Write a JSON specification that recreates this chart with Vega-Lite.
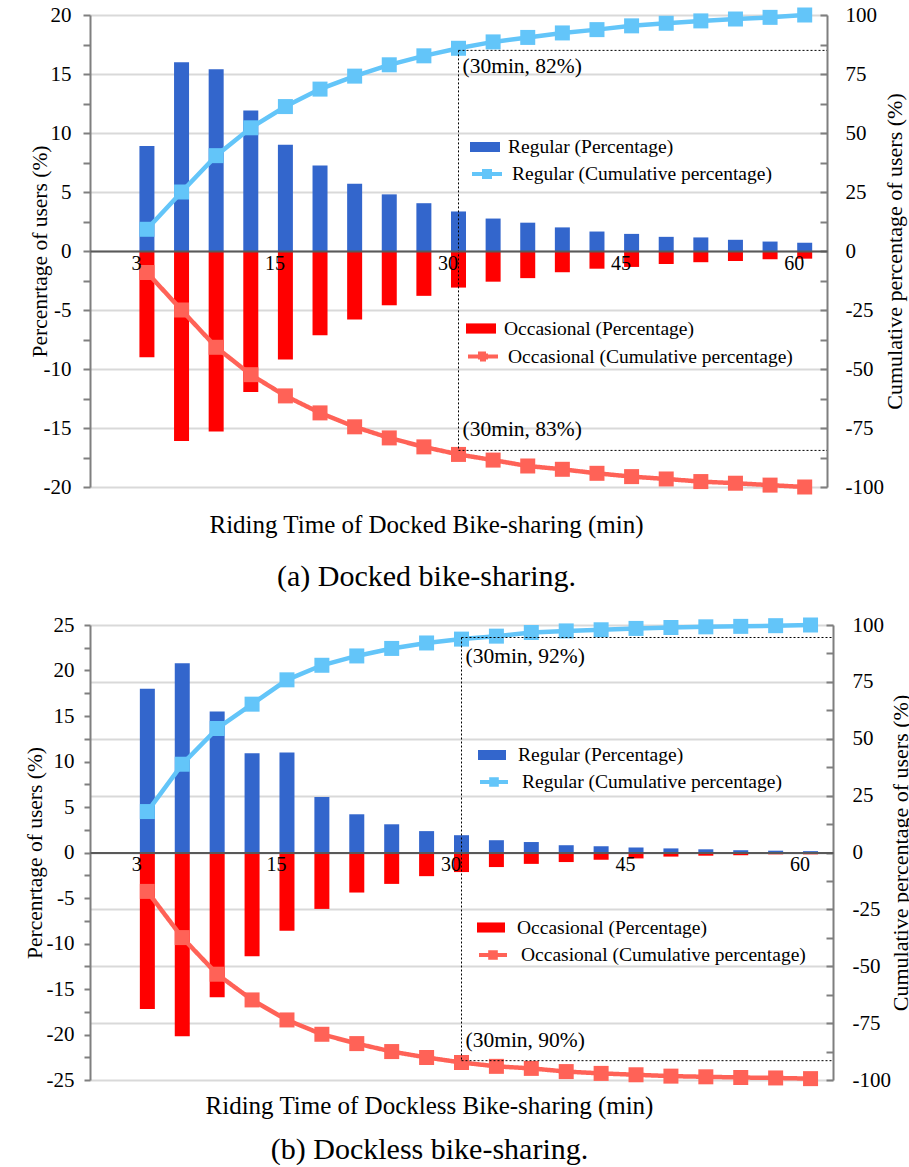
{
  "$schema": "https://vega.github.io/schema/vega-lite/v6.json",
  "background": "white",
  "padding": {"left": 24, "top": 4, "right": 0, "bottom": 0},
  "config": {
    "view": {"stroke": null},
    "font": "Liberation Serif",
    "axis": {"labelFont": "Liberation Serif", "titleFont": "Liberation Serif", "labelColor": "black", "titleColor": "black", "titleFontWeight": "normal", "labelOverlap": false, "labelBound": false},
    "legend": {"labelFont": "Liberation Serif", "labelColor": "black", "padding": 0, "labelFontSize": 19.5, "labelLimit": 500, "clipHeight": 25, "rowPadding": 0, "title": null},
    "title": {"font": "Liberation Serif", "subtitleFont": "Liberation Serif", "color": "black", "subtitleColor": "black", "fontWeight": "normal"}
  },
  "datasets": {
    "docked": [
      {"t": 3, "reg": 8.9, "occ": -9.0, "regCum": 9.2, "occCum": -9.1},
      {"t": 6, "reg": 16.0, "occ": -16.1, "regCum": 25.0, "occCum": -25.0},
      {"t": 9, "reg": 15.4, "occ": -15.3, "regCum": 40.4, "occCum": -40.8},
      {"t": 12, "reg": 11.9, "occ": -11.95, "regCum": 52.2, "occCum": -52.4},
      {"t": 15, "reg": 9.0, "occ": -9.2, "regCum": 61.2, "occCum": -61.4},
      {"t": 18, "reg": 7.25, "occ": -7.15, "regCum": 68.6, "occCum": -68.6},
      {"t": 21, "reg": 5.7, "occ": -5.8, "regCum": 74.1, "occCum": -74.5},
      {"t": 24, "reg": 4.8, "occ": -4.6, "regCum": 78.9, "occCum": -79.2},
      {"t": 27, "reg": 4.05, "occ": -3.8, "regCum": 82.7, "occCum": -83.0},
      {"t": 30, "reg": 3.35, "occ": -3.1, "regCum": 85.9, "occCum": -86.2},
      {"t": 33, "reg": 2.75, "occ": -2.6, "regCum": 88.6, "occCum": -88.6},
      {"t": 36, "reg": 2.4, "occ": -2.3, "regCum": 90.5, "occCum": -91.1},
      {"t": 39, "reg": 2.0, "occ": -1.8, "regCum": 92.4, "occCum": -92.5},
      {"t": 42, "reg": 1.65, "occ": -1.5, "regCum": 93.8, "occCum": -94.2},
      {"t": 45, "reg": 1.45, "occ": -1.35, "regCum": 95.4, "occCum": -95.6},
      {"t": 48, "reg": 1.2, "occ": -1.1, "regCum": 96.5, "occCum": -96.6},
      {"t": 51, "reg": 1.15, "occ": -0.95, "regCum": 97.5, "occCum": -97.7},
      {"t": 54, "reg": 0.95, "occ": -0.85, "regCum": 98.3, "occCum": -98.4},
      {"t": 57, "reg": 0.8, "occ": -0.7, "regCum": 99.0, "occCum": -99.2},
      {"t": 60, "reg": 0.7, "occ": -0.65, "regCum": 100, "occCum": -100}
    ],
    "dockless": [
      {"t": 3, "reg": 18.0, "occ": -17.2, "regCum": 18.0, "occCum": -17.1},
      {"t": 6, "reg": 20.8, "occ": -20.2, "regCum": 38.8, "occCum": -37.4},
      {"t": 9, "reg": 15.5, "occ": -15.9, "regCum": 54.5, "occCum": -53.5},
      {"t": 12, "reg": 10.9, "occ": -11.4, "regCum": 65.2, "occCum": -64.8},
      {"t": 15, "reg": 11.0, "occ": -8.6, "regCum": 75.9, "occCum": -73.6},
      {"t": 18, "reg": 6.1, "occ": -6.2, "regCum": 82.3, "occCum": -79.9},
      {"t": 21, "reg": 4.2, "occ": -4.4, "regCum": 86.4, "occCum": -84.0},
      {"t": 24, "reg": 3.1, "occ": -3.45, "regCum": 89.7, "occCum": -87.5},
      {"t": 27, "reg": 2.35, "occ": -2.6, "regCum": 92.1, "occCum": -90.1},
      {"t": 30, "reg": 1.9, "occ": -2.15, "regCum": 93.8, "occCum": -92.3},
      {"t": 33, "reg": 1.35, "occ": -1.6, "regCum": 95.1, "occCum": -94.0},
      {"t": 36, "reg": 1.15, "occ": -1.25, "regCum": 96.7, "occCum": -94.9},
      {"t": 39, "reg": 0.8, "occ": -1.05, "regCum": 97.4, "occCum": -96.3},
      {"t": 42, "reg": 0.7, "occ": -0.8, "regCum": 97.9, "occCum": -97.1},
      {"t": 45, "reg": 0.55, "occ": -0.65, "regCum": 98.5, "occCum": -97.7},
      {"t": 48, "reg": 0.45, "occ": -0.45, "regCum": 98.9, "occCum": -98.3},
      {"t": 51, "reg": 0.35, "occ": -0.35, "regCum": 99.2, "occCum": -98.6},
      {"t": 54, "reg": 0.25, "occ": -0.3, "regCum": 99.4, "occCum": -98.9},
      {"t": 57, "reg": 0.2, "occ": -0.2, "regCum": 99.7, "occCum": -99.1},
      {"t": 60, "reg": 0.15, "occ": -0.2, "regCum": 100, "occCum": -99.4}
    ],
    "annA": [{"t": 30, "hi": 85, "lo": -84.5, "hiLabel": "(30min, 82%)", "loLabel": "(30min, 83%)"}],
    "annB": [{"t": 30, "hi": 94.5, "lo": -91.5, "hiLabel": "(30min, 92%)", "loLabel": "(30min, 90%)"}]
  },
  "spacing": 22,
  "resolve": {"scale": {"color": "independent", "fill": "independent", "stroke": "independent", "strokeDash": "independent", "x": "independent", "y": "independent"}},
  "vconcat": [
    {
      "width": 737,
      "height": 472,
      "data": {"name": "docked"},
      "title": {"text": "Riding Time of Docked Bike-sharing (min)", "subtitle": "(a) Docked bike-sharing.", "orient": "bottom", "anchor": "middle", "frame": "group", "dx": -32, "offset": 16, "fontSize": 25, "subtitleFontSize": 30, "subtitlePadding": 24, "font": "Liberation Serif", "subtitleFont": "Liberation Serif"},
      "encoding": {
        "x": {"field": "t", "type": "quantitative", "scale": {"domain": [-1.5, 61.5], "nice": false, "zero": false},
          "axis": {"orient": "bottom", "offset": -236, "values": [3, 15, 30, 45, 60], "title": null, "ticks": false, "grid": false, "domainColor": "#595959", "domainWidth": 2, "labelFont": "Liberation Serif", "labelColor": "black", "labelFontSize": 20, "labelOffset": -11, "labelPadding": 2, "labelFlush": false, "zindex": 1}}
      },
      "layer": [
        {
          "mark": {"type": "bar", "size": 15},
          "encoding": {
            "y": {"field": "reg", "type": "quantitative", "scale": {"domain": [-20, 20], "nice": false},
              "axis": {"orient": "left", "title": "Percenrtage of users (%)", "values": [-20, -17.5, -15, -12.5, -10, -7.5, -5, -2.5, 0, 2.5, 5, 7.5, 10, 12.5, 15, 17.5, 20], "labelExpr": "datum.value % 5 === 0 ? '' + datum.value : ''", "grid": false, "domainColor": "#7F7F7F", "domainWidth": 2, "tickColor": "#7F7F7F", "tickWidth": 2, "tickSize": 7, "labelPadding": 12, "labelFont": "Liberation Serif", "titleFont": "Liberation Serif", "labelFontSize": 21, "titleFontSize": 21.5, "titlePadding": -8}},
            "color": {"datum": "Regular (Percentage)", "scale": {"range": ["#3366CC"]},
              "legend": {"orient": "none", "legendX": 380, "legendY": 119.5, "symbolType": "M-1,-0.34H1V0.34H-1Z", "symbolSize": 900, "symbolStrokeWidth": 0, "labelOffset": 8, "labelFont": "Liberation Serif"}}
          }
        },
        {
          "mark": {"type": "bar", "size": 15},
          "encoding": {
            "y": {"field": "occ", "type": "quantitative", "scale": {"domain": [-20, 20], "nice": false}, "axis": null},
            "fill": {"datum": "Occasional (Percentage)", "scale": {"range": ["#FF0000"]},
              "legend": {"orient": "none", "legendX": 376, "legendY": 301, "symbolType": "M-1,-0.34H1V0.34H-1Z", "symbolSize": 900, "symbolStrokeWidth": 0, "labelOffset": 8, "labelFont": "Liberation Serif"}}
          }
        },
        {
          "mark": {"type": "line", "strokeWidth": 4.5},
          "encoding": {
            "y": {"field": "regCum", "type": "quantitative", "scale": {"domain": [-100, 100], "nice": false},
              "axis": {"orient": "right", "title": "Cumulative percentage of users (%)", "values": [-100, -87.5, -75, -62.5, -50, -37.5, -25, -12.5, 0, 12.5, 25, 37.5, 50, 62.5, 75, 87.5, 100], "labelExpr": "datum.value % 25 === 0 ? '' + datum.value : ''", "grid": true, "gridColor": "#D9D9D9", "gridWidth": 2, "gridOpacity": {"condition": {"test": "datum.value % 25 !== 0", "value": 0}, "value": 1}, "domainColor": "#7F7F7F", "domainWidth": 2, "tickColor": "#7F7F7F", "tickWidth": 2, "tickSize": -7, "labelPadding": 25, "labelFont": "Liberation Serif", "titleFont": "Liberation Serif", "labelFontSize": 21, "titleFontSize": 22, "titleAngle": 270, "titleBaseline": "top", "titlePadding": 1}},
            "stroke": {"datum": "Regular (Cumulative percentage)", "scale": {"range": ["#63C5F9"]},
              "legend": {"orient": "none", "legendX": 380, "legendY": 146.5, "symbolType": "M-1,0H1M-0.2,-0.2H0.2V0.2H-0.2Z", "symbolSize": 900, "symbolStrokeWidth": 4, "symbolFillColor": "#63C5F9", "labelOffset": 8, "labelFont": "Liberation Serif"}}
          }
        },
        {
          "mark": {"type": "point", "shape": "square", "filled": true, "size": 225, "opacity": 1, "color": "#63C5F9"},
          "encoding": {"y": {"field": "regCum", "type": "quantitative", "scale": {"domain": [-100, 100], "nice": false}, "axis": null}}
        },
        {
          "mark": {"type": "line", "color": "#FF6257", "strokeWidth": 4.5},
          "encoding": {
            "y": {"field": "occCum", "type": "quantitative", "scale": {"domain": [-100, 100], "nice": false}, "axis": null},
            "strokeDash": {"datum": "Occasional (Cumulative percentage)", "scale": {"range": [[1, 0]]},
              "legend": {"orient": "none", "legendX": 376, "legendY": 329, "symbolType": "M-1,0H1M-0.2,-0.2H0.2V0.2H-0.2Z", "symbolSize": 900, "symbolStrokeWidth": 4, "symbolStrokeColor": "#FF6257", "symbolFillColor": "#FF6257", "labelOffset": 8, "labelFont": "Liberation Serif"}}
          }
        },
        {
          "mark": {"type": "point", "shape": "square", "filled": true, "size": 225, "opacity": 1, "color": "#FF6257"},
          "encoding": {"y": {"field": "occCum", "type": "quantitative", "scale": {"domain": [-100, 100], "nice": false}, "axis": null}}
        },
        {
          "data": {"name": "annA"},
          "mark": {"type": "rule", "color": "black", "strokeWidth": 1, "strokeDash": [2, 2]},
          "encoding": {"x2": {"value": "width"}, "y": {"field": "hi", "type": "quantitative", "scale": {"domain": [-100, 100], "nice": false}, "axis": null}}
        },
        {
          "data": {"name": "annA"},
          "mark": {"type": "rule", "color": "black", "strokeWidth": 1, "strokeDash": [2, 2]},
          "encoding": {"x2": {"value": "width"}, "y": {"field": "lo", "type": "quantitative", "scale": {"domain": [-100, 100], "nice": false}, "axis": null}}
        },
        {
          "data": {"name": "annA"},
          "mark": {"type": "rule", "color": "black", "strokeWidth": 1, "strokeDash": [2, 2]},
          "encoding": {"y": {"field": "hi", "type": "quantitative", "scale": {"domain": [-100, 100], "nice": false}, "axis": null}, "y2": {"field": "lo"}}
        },
        {
          "data": {"name": "annA"},
          "mark": {"type": "text", "align": "left", "baseline": "top", "dx": 4, "dy": 6, "fontSize": 21.5, "font": "Liberation Serif", "color": "black"},
          "encoding": {"y": {"field": "hi", "type": "quantitative", "scale": {"domain": [-100, 100], "nice": false}, "axis": null}, "text": {"field": "hiLabel"}}
        },
        {
          "data": {"name": "annA"},
          "mark": {"type": "text", "align": "left", "baseline": "bottom", "dx": 4, "dy": -9, "fontSize": 21.5, "font": "Liberation Serif", "color": "black"},
          "encoding": {"y": {"field": "lo", "type": "quantitative", "scale": {"domain": [-100, 100], "nice": false}, "axis": null}, "text": {"field": "loLabel"}}
        }
      ],
      "resolve": {"scale": {"y": "independent"}}
    },
    {
      "width": 743,
      "height": 455,
      "data": {"name": "dockless"},
      "title": {"text": "Riding Time of Dockless Bike-sharing (min)", "subtitle": "(b) Dockless bike-sharing.", "orient": "bottom", "anchor": "middle", "frame": "group", "dx": -32, "offset": 4, "fontSize": 25, "subtitleFontSize": 30, "subtitlePadding": 16, "font": "Liberation Serif", "subtitleFont": "Liberation Serif"},
      "encoding": {
        "x": {"field": "t", "type": "quantitative", "scale": {"domain": [-1.5, 61.5], "nice": false, "zero": false},
          "axis": {"orient": "bottom", "offset": -227.5, "values": [3, 15, 30, 45, 60], "title": null, "ticks": false, "grid": false, "domainColor": "#595959", "domainWidth": 2, "labelFont": "Liberation Serif", "labelColor": "black", "labelFontSize": 20, "labelOffset": -11, "labelPadding": 2, "labelFlush": false, "zindex": 1}}
      },
      "layer": [
        {
          "mark": {"type": "bar", "size": 15},
          "encoding": {
            "y": {"field": "reg", "type": "quantitative", "scale": {"domain": [-25, 25], "nice": false},
              "axis": {"orient": "left", "title": "Percenrtage of users (%)", "values": [-25, -22.5, -20, -17.5, -15, -12.5, -10, -7.5, -5, -2.5, 0, 2.5, 5, 7.5, 10, 12.5, 15, 17.5, 20, 22.5, 25], "labelExpr": "datum.value % 5 === 0 ? '' + datum.value : ''", "grid": false, "domainColor": "#7F7F7F", "domainWidth": 2, "tickColor": "#7F7F7F", "tickWidth": 2, "tickSize": 6, "labelPadding": 10, "labelFont": "Liberation Serif", "titleFont": "Liberation Serif", "labelFontSize": 21, "titleFontSize": 21.5, "titlePadding": 0}},
            "color": {"datum": "Regular (Percentage)", "scale": {"range": ["#3366CC"]},
              "legend": {"orient": "none", "legendX": 388, "legendY": 117.5, "symbolType": "M-1,-0.36H1V0.36H-1Z", "symbolSize": 784, "symbolStrokeWidth": 0, "labelOffset": 12, "labelFont": "Liberation Serif"}}
          }
        },
        {
          "mark": {"type": "bar", "size": 15},
          "encoding": {
            "y": {"field": "occ", "type": "quantitative", "scale": {"domain": [-25, 25], "nice": false}, "axis": null},
            "fill": {"datum": "Occasional (Percentage)", "scale": {"range": ["#FF0000"]},
              "legend": {"orient": "none", "legendX": 387, "legendY": 290, "symbolType": "M-1,-0.36H1V0.36H-1Z", "symbolSize": 784, "symbolStrokeWidth": 0, "labelOffset": 12, "labelFont": "Liberation Serif"}}
          }
        },
        {
          "mark": {"type": "line", "strokeWidth": 4.5},
          "encoding": {
            "y": {"field": "regCum", "type": "quantitative", "scale": {"domain": [-100, 100], "nice": false},
              "axis": {"orient": "right", "title": "Cumulative percentage of users (%)", "values": [-100, -87.5, -75, -62.5, -50, -37.5, -25, -12.5, 0, 12.5, 25, 37.5, 50, 62.5, 75, 87.5, 100], "labelExpr": "datum.value % 25 === 0 ? '' + datum.value : ''", "grid": true, "gridColor": "#D9D9D9", "gridWidth": 2, "gridOpacity": {"condition": {"test": "datum.value % 25 !== 0", "value": 0}, "value": 1}, "domainColor": "#7F7F7F", "domainWidth": 2, "tickColor": "#7F7F7F", "tickWidth": 2, "tickSize": -7, "labelPadding": 26, "labelFont": "Liberation Serif", "titleFont": "Liberation Serif", "labelFontSize": 21, "titleFontSize": 22, "titleAngle": 270, "titleBaseline": "top", "titlePadding": 0}},
            "stroke": {"datum": "Regular (Cumulative percentage)", "scale": {"range": ["#63C5F9"]},
              "legend": {"orient": "none", "legendX": 388, "legendY": 144.5, "symbolType": "M-1,0H1M-0.2,-0.2H0.2V0.2H-0.2Z", "symbolSize": 784, "symbolStrokeWidth": 4, "symbolFillColor": "#63C5F9", "labelOffset": 12, "labelFont": "Liberation Serif"}}
          }
        },
        {
          "mark": {"type": "point", "shape": "square", "filled": true, "size": 225, "opacity": 1, "color": "#63C5F9"},
          "encoding": {"y": {"field": "regCum", "type": "quantitative", "scale": {"domain": [-100, 100], "nice": false}, "axis": null}}
        },
        {
          "mark": {"type": "line", "color": "#FF6257", "strokeWidth": 4.5},
          "encoding": {
            "y": {"field": "occCum", "type": "quantitative", "scale": {"domain": [-100, 100], "nice": false}, "axis": null},
            "strokeDash": {"datum": "Occasional (Cumulative percentage)", "scale": {"range": [[1, 0]]},
              "legend": {"orient": "none", "legendX": 387, "legendY": 317.5, "symbolType": "M-1,0H1M-0.2,-0.2H0.2V0.2H-0.2Z", "symbolSize": 784, "symbolStrokeWidth": 4, "symbolStrokeColor": "#FF6257", "symbolFillColor": "#FF6257", "labelOffset": 12, "labelFont": "Liberation Serif"}}
          }
        },
        {
          "mark": {"type": "point", "shape": "square", "filled": true, "size": 225, "opacity": 1, "color": "#FF6257"},
          "encoding": {"y": {"field": "occCum", "type": "quantitative", "scale": {"domain": [-100, 100], "nice": false}, "axis": null}}
        },
        {
          "data": {"name": "annB"},
          "mark": {"type": "rule", "color": "black", "strokeWidth": 1, "strokeDash": [2, 2]},
          "encoding": {"x2": {"value": "width"}, "y": {"field": "hi", "type": "quantitative", "scale": {"domain": [-100, 100], "nice": false}, "axis": null}}
        },
        {
          "data": {"name": "annB"},
          "mark": {"type": "rule", "color": "black", "strokeWidth": 1, "strokeDash": [2, 2]},
          "encoding": {"x2": {"value": "width"}, "y": {"field": "lo", "type": "quantitative", "scale": {"domain": [-100, 100], "nice": false}, "axis": null}}
        },
        {
          "data": {"name": "annB"},
          "mark": {"type": "rule", "color": "black", "strokeWidth": 1, "strokeDash": [2, 2]},
          "encoding": {"y": {"field": "hi", "type": "quantitative", "scale": {"domain": [-100, 100], "nice": false}, "axis": null}, "y2": {"field": "lo"}}
        },
        {
          "data": {"name": "annB"},
          "mark": {"type": "text", "align": "left", "baseline": "top", "dx": 4, "dy": 8, "fontSize": 21.5, "font": "Liberation Serif", "color": "black"},
          "encoding": {"y": {"field": "hi", "type": "quantitative", "scale": {"domain": [-100, 100], "nice": false}, "axis": null}, "text": {"field": "hiLabel"}}
        },
        {
          "data": {"name": "annB"},
          "mark": {"type": "text", "align": "left", "baseline": "bottom", "dx": 4, "dy": -9, "fontSize": 21.5, "font": "Liberation Serif", "color": "black"},
          "encoding": {"y": {"field": "lo", "type": "quantitative", "scale": {"domain": [-100, 100], "nice": false}, "axis": null}, "text": {"field": "loLabel"}}
        }
      ],
      "resolve": {"scale": {"y": "independent"}}
    }
  ]
}
